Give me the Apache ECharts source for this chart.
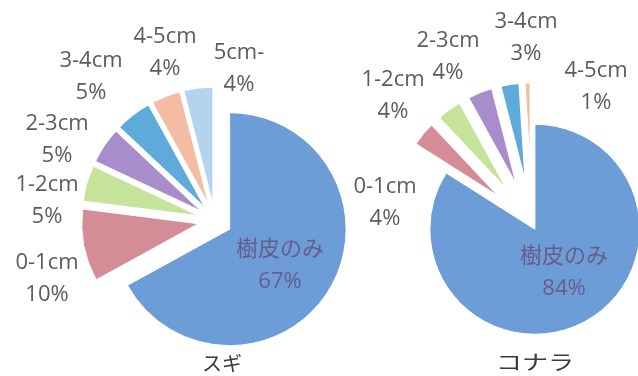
<!DOCTYPE html>
<html>
<head>
<meta charset="utf-8">
<script src="https://cdn.jsdelivr.net/npm/echarts@6/dist/echarts.min.js"></script>
<style>
  html, body { margin: 0; padding: 0; background: #ffffff; }
  #chart { width: 638px; height: 376px; }
</style>
</head>
<body>
<div id="chart"></div>
<script>
// Share (%) of bark-only pieces and each diameter class, per species
const sugiClasses = ['樹皮のみ', '0-1cm', '1-2cm', '2-3cm', '3-4cm', '4-5cm', '5cm-'];
const sugiShare = [67, 10, 5, 5, 5, 4, 4];

const konaraClasses = ['樹皮のみ', '0-1cm', '1-2cm', '2-3cm', '3-4cm', '4-5cm'];
const konaraShare = [84, 4, 4, 4, 3, 1];

const speciesNames = ['スギ', 'コナラ'];

// slice colours, in class order
const palette = ['#6d9dd6', '#d48c96', '#c6e39a', '#a98ccc', '#5eaadb', '#f4bca2', '#b4d3ef'];

// where each data label block is centred (px)
const sugiLabelAt = [[280, 266], [47, 279], [47, 201], [57, 140], [91, 77], [165, 53], [239, 69]];
const konaraLabelAt = [[564, 273], [385, 203], [393, 96], [448, 57], [526, 38], [596, 87]];

const labelFont = "22px 'Open Sans', 'Noto Sans CJK JP', sans-serif";
const outerInk = '#5c5c5c';
const innerInk = '#655d8e';

// One pie layer: every slice takes part in the angle layout, but only the
// slices accepted by `shows` are painted; those are pulled out by `offset`.
function pieLayer(names, values, center, radius, offset, shows, border) {
  return {
    type: 'pie',
    center: center,
    radius: radius,
    startAngle: 90,
    clockwise: true,
    selectedMode: 'multiple',
    selectedOffset: offset,
    silent: true,
    animation: false,
    emphasis: { disabled: true },
    label: { show: false },
    labelLine: { show: false },
    data: names.map(function (n, i) {
      const on = shows(i);
      return {
        name: n,
        value: values[i],
        selected: on,
        itemStyle: on
          ? { color: palette[i], borderColor: '#ffffff', borderWidth: border }
          : { color: 'rgba(0,0,0,0)', borderWidth: 0 }
      };
    })
  };
}

// Data labels: class name over its share, drawn above the slices
function labelTexts(names, values, labelAt, lineH) {
  return names.map(function (n, i) {
    return {
      type: 'text',
      x: labelAt[i][0],
      y: labelAt[i][1],
      z: 100,
      silent: true,
      style: {
        text: n + '\n' + values[i] + '%',
        font: labelFont,
        lineHeight: lineH,
        fill: i === 0 ? innerInk : outerInk,
        textAlign: 'center',
        textVerticalAlign: 'middle'
      }
    };
  });
}

const isBark = function (i) { return i === 0; };
const isWood = function (i) { return i > 0; };

const chart = echarts.init(document.getElementById('chart'), null, { renderer: 'canvas' });

chart.setOption({
  backgroundColor: '#ffffff',
  animation: false,
  series: [
    pieLayer(sugiClasses, sugiShare, [215, 220.5], 116.5, 17, isBark, 1),
    pieLayer(sugiClasses, sugiShare, [215, 220.5], 116.5, 17, isWood, 1),
    pieLayer(konaraClasses, konaraShare, [532, 224], 105, 6, isBark, 1),
    pieLayer(konaraClasses, konaraShare, [532, 224], 105, 37, isWood, 2.5)
  ],
  graphic: labelTexts(sugiClasses, sugiShare, sugiLabelAt, 32)
    .concat(labelTexts(konaraClasses, konaraShare, konaraLabelAt, 32))
    .concat([
      {
        type: 'text',
        x: 222, y: 363,
        z: 100,
        silent: true,
        style: {
          text: speciesNames[0],
          font: "20px 'Noto Sans CJK JP', sans-serif",
          fill: '#3a3a3a',
          textAlign: 'center',
          textVerticalAlign: 'middle'
        }
      },
      {
        type: 'text',
        x: 535, y: 362,
        z: 100,
        scaleX: 1.3,
        silent: true,
        style: {
          text: speciesNames[1],
          font: "20px 'Noto Sans CJK JP', sans-serif",
          fill: '#3a3a3a',
          textAlign: 'center',
          textVerticalAlign: 'middle'
        }
      }
    ])
});
</script>
</body>
</html>
